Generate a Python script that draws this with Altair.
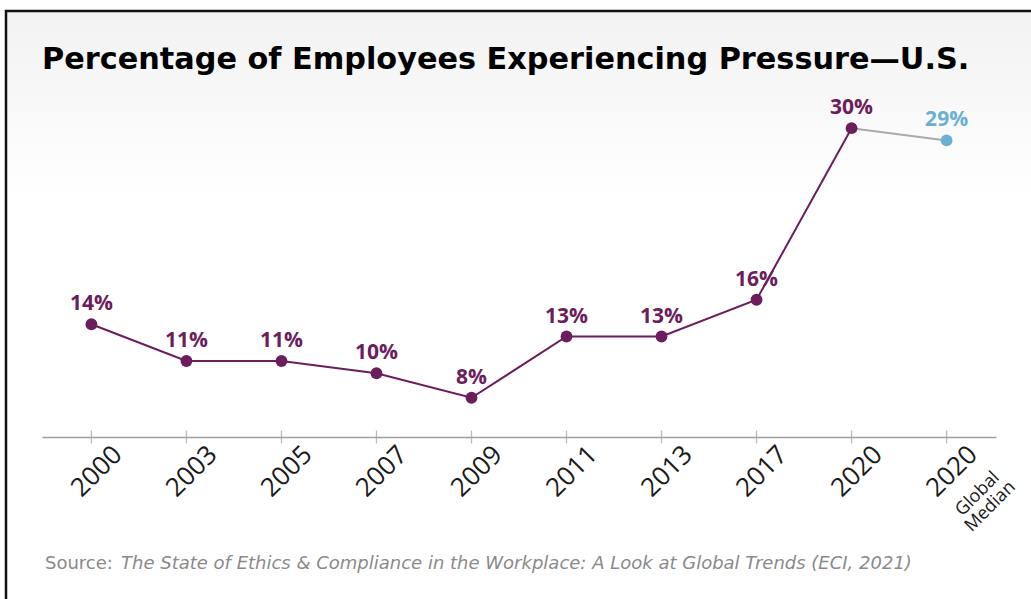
import altair as alt
import pandas as pd

# ---- data ----
categories = ["2000", "2003", "2005", "2007", "2009", "2011", "2013", "2017", "2020", "2020 Global Median"]
values = [14, 11, 11, 10, 8, 13, 13, 16, 30, 29]
groups = ["US"] * 9 + ["Global"]
labels = ["14%", "11%", "11%", "10%", "8%", "13%", "13%", "16%", "30%", "29%"]

title_text = "Percentage of Employees Experiencing Pressure\u2014U.S."
source_lead = "Source:"
source_italic = "The State of Ethics & Compliance in the Workplace: A Look at Global Trends (ECI, 2021)"
extra_label = "Global\nMedian"

df = pd.DataFrame({"cat": categories, "value": values, "group": groups, "label": labels})

PURPLE = "#6b1d5c"
BLUE = "#6aafd4"

W, H = 954, 337
PL, PT = 42, 100

x_enc = alt.X(
    "cat:O",
    sort=categories,
    scale=alt.Scale(type="point", padding=0.52),
    axis=alt.Axis(
        title=None,
        labelAngle=-45,
        labelAlign="center",
        labelBaseline="middle",
        labelPadding=34,
        labelOffset=5,
        ticks=False,
        tickSize=0,
        labelFont="Open Sans",
        labelFontSize=26,
        labelColor="#1a1a1a",
        labelExpr="slice(datum.label, 0, 4)",
        domainColor="#a0a0a0",
        domainWidth=1.5,
        grid=False,
    ),
)
y_scale = alt.Scale(domain=[4.8, 32.3], nice=False, zero=False)
y_enc = alt.Y("value:Q", scale=y_scale, axis=None)
color_enc = alt.Color(
    "group:N",
    scale=alt.Scale(domain=["US", "Global"], range=[PURPLE, BLUE]),
    legend=None,
)

base = alt.Chart(df)

one = pd.DataFrame({"k": [0]})

background = alt.Chart(one).mark_rect(
    fill=alt.Gradient(
        gradient="linear",
        stops=[
            alt.GradientStop(color="#f2f2f2", offset=0),
            alt.GradientStop(color="#ffffff", offset=1),
        ],
        x1=0, x2=0, y1=0, y2=1,
    )
).encode(
    x=alt.value(-36), x2=alt.value(1031 - PL),
    y=alt.value(10 - PT), y2=alt.value(200 - PT),
)

frame_top = alt.Chart(one).mark_rule(color="#111111", strokeWidth=2.5).encode(
    x=alt.value(-37), x2=alt.value(1031 - PL), y=alt.value(11 - PT)
)
frame_left = alt.Chart(one).mark_rule(color="#111111", strokeWidth=2.5).encode(
    x=alt.value(-36), y=alt.value(10 - PT), y2=alt.value(599 - PT)
)

title = alt.Chart(pd.DataFrame({"t": [title_text]})).mark_text(
    align="left", baseline="alphabetic", font="DejaVu Sans", fontSize=30.3,
    fontWeight="bold", color="#000000"
).encode(text="t:N", x=alt.value(0), y=alt.value(69 - PT))

src1 = alt.Chart(pd.DataFrame({"t": [source_lead]})).mark_text(
    align="left", baseline="alphabetic", font="DejaVu Sans", fontSize=18, color="#8a8a8a"
).encode(text="t:N", x=alt.value(45 - PL), y=alt.value(569 - PT))
src2 = alt.Chart(pd.DataFrame({"t": [source_italic]})).mark_text(
    align="left", baseline="alphabetic", font="DejaVu Sans", fontSize=18,
    fontStyle="italic", color="#8a8a8a"
).encode(text="t:N", x=alt.value(121 - PL), y=alt.value(569 - PT))

ticks = base.mark_tick(orient="vertical", size=13, thickness=1.3, color="#a0a0a0").encode(
    x=x_enc, y=alt.value(H)
)

connector = base.transform_filter(
    alt.FieldOneOfPredicate(field="cat", oneOf=["2020", "2020 Global Median"])
).mark_line(color="#aaaaaa", strokeWidth=2).encode(x=x_enc, y=y_enc)

us_line = base.transform_filter(alt.datum.group == "US").mark_line(
    color=PURPLE, strokeWidth=2
).encode(x=x_enc, y=y_enc)

points = base.mark_circle(size=140, opacity=1).encode(x=x_enc, y=y_enc, color=color_enc)

value_labels = base.mark_text(
    dy=-14, baseline="alphabetic", font="Open Sans", fontSize=21, fontWeight="bold"
).encode(x=x_enc, y=y_enc, text="label:N", color=color_enc)

extra = alt.Chart(pd.DataFrame({"cat": ["2020 Global Median"], "t": [extra_label]})).mark_text(
    angle=315, align="center", baseline="middle", font="Open Sans", fontSize=18,
    color="#1a1a1a", lineBreak="\n", lineHeight=18, dx=22, dy=22
).encode(x=x_enc, y=alt.value(H + 57), text="t:N")

chart = alt.layer(
    background, frame_top, frame_left, title, src1, src2,
    ticks, connector, us_line, points, value_labels, extra
).properties(
    width=W, height=H,
    padding={"left": PL, "top": PT, "right": 1031 - PL - W, "bottom": 599 - PT - H},
    autosize=alt.AutoSizeParams(type="none"),
    background="#ffffff",
).configure_view(stroke=None)

chart.save("out.html", embed_options={"renderer": "svg", "actions": False})
